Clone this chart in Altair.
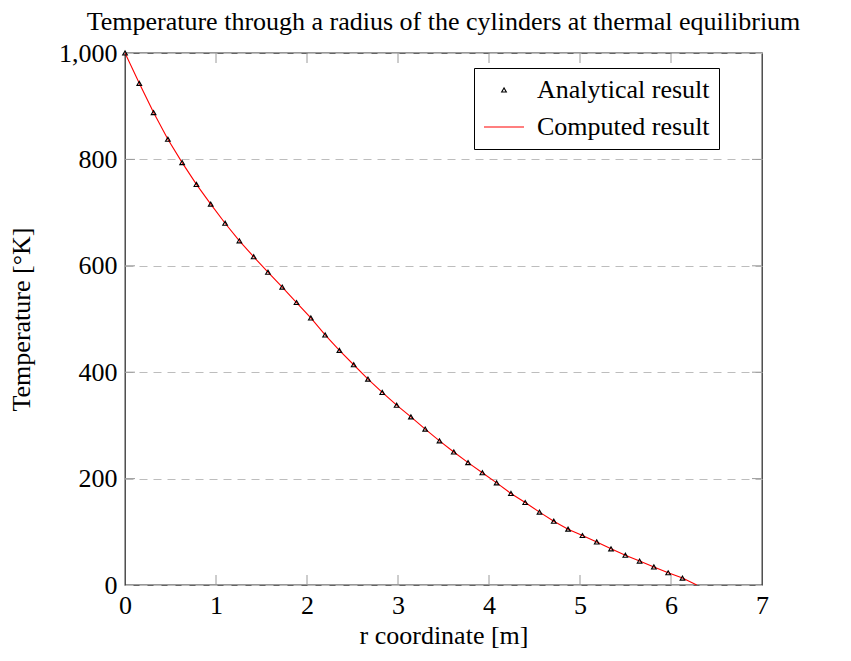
import altair as alt
import pandas as pd

# ---- data ----
r_analytical = [0.000, 0.157, 0.314, 0.471, 0.628, 0.785, 0.942, 1.100, 1.257, 1.414,
                1.571, 1.728, 1.885, 2.042, 2.199, 2.356, 2.513, 2.670, 2.827, 2.985,
                3.142, 3.299, 3.456, 3.613, 3.770, 3.927, 4.084, 4.241, 4.398, 4.555,
                4.712, 4.869, 5.027, 5.184, 5.341, 5.498, 5.655, 5.812, 5.969, 6.126]
t_analytical = [1000, 943, 888, 838, 794, 753, 716, 680, 647, 617,
                588, 560, 531, 502, 470, 441, 414, 387, 362, 338,
                316, 293, 271, 250, 230, 211, 192, 172, 155, 137,
                120, 105, 93, 81, 68, 56, 45, 34, 23, 13]
r_computed = r_analytical + [6.283]
t_computed = t_analytical + [0]

x_ticks = [0, 1, 2, 3, 4, 5, 6, 7]
y_ticks = [0, 200, 400, 600, 800, 1000]
x_inner_ticks = [1, 2, 3, 4, 5, 6]
y_inner_ticks = [200, 400, 600, 800]
series = ["Analytical result", "Computed result"]

FONT = "Liberation Serif"
FS = 26
W, H = 637, 532

ana = pd.DataFrame({"r": r_analytical, "T": t_analytical, "series": series[0]})
comp = pd.DataFrame({"r": r_computed, "T": t_computed})
xt = pd.DataFrame({"r": x_inner_ticks})
yt = pd.DataFrame({"T": y_inner_ticks})

xscale = alt.Scale(domain=[0, 7], nice=False, zero=False)
yscale = alt.Scale(domain=[0, 1000], nice=False, zero=False)

xaxis = alt.Axis(values=x_ticks, format="d", ticks=False, domain=False, grid=False,
                 labelPadding=7, labelFontSize=FS, labelFont=FONT, labelColor="black",
                 title="r coordinate [m]", titleFont=FONT, titleFontSize=FS,
                 titleFontWeight="normal", titleColor="black", titlePadding=4,
                 labelFlush=False)
yaxis = alt.Axis(values=y_ticks, format=",d", ticks=False, domain=False, grid=True,
                 gridDash=[8, 6], gridColor="#bdbdbd", gridWidth=1,
                 labelPadding=8, labelFontSize=FS, labelFont=FONT, labelColor="black",
                 title="Temperature [°K]", titleFont=FONT, titleFontSize=FS,
                 titleFontWeight="normal", titleColor="black", titlePadding=24,
                 labelFlush=False)

line = alt.Chart(comp).mark_line(color="red", strokeWidth=1.1, clip=True).encode(
    x=alt.X("r:Q", scale=xscale, axis=xaxis),
    y=alt.Y("T:Q", scale=yscale, axis=yaxis),
)

points = alt.Chart(ana).mark_point(filled=False, strokeWidth=1.1, opacity=1).encode(
    x=alt.X("r:Q", scale=xscale),
    y=alt.Y("T:Q", scale=yscale),
    color=alt.Color("series:N", title=None,
                    scale=alt.Scale(domain=series, range=["black", "red"])),
    shape=alt.Shape("series:N", title=None,
                    scale=alt.Scale(domain=series, range=["triangle-up", "stroke"])),
    size=alt.Size("series:N", title=None,
                  scale=alt.Scale(domain=series, range=[22, 1600])),
)

tick_style = dict(color="#9a9a9a", strokeWidth=1)
xb = alt.Chart(xt).mark_rule(**tick_style).encode(
    x=alt.X("r:Q", scale=xscale), y=alt.value(H), y2=alt.value(H - 10))
xtop = alt.Chart(xt).mark_rule(**tick_style).encode(
    x=alt.X("r:Q", scale=xscale), y=alt.value(0), y2=alt.value(10))
yl = alt.Chart(yt).mark_rule(**tick_style).encode(
    y=alt.Y("T:Q", scale=yscale), x=alt.value(0), x2=alt.value(10))
yr = alt.Chart(yt).mark_rule(**tick_style).encode(
    y=alt.Y("T:Q", scale=yscale), x=alt.value(W), x2=alt.value(W - 10))

chart = alt.layer(xb, xtop, yl, yr, line, points).properties(
    width=W, height=H,
    title=alt.TitleParams(
        "Temperature through a radius of the cylinders at thermal equilibrium",
        font=FONT, fontSize=FS, fontWeight="normal", color="black",
        anchor="middle", offset=5),
    autosize=alt.AutoSizeParams(type="none"),
    padding={"left": 117, "top": 45, "right": 80, "bottom": 70},
).configure_view(
    stroke="#333333", strokeWidth=1.3
).configure_legend(
    orient="none", legendX=349, legendY=15,
    strokeColor="black", strokeWidth=1, fillColor="white",
    padding=9, labelFont=FONT, labelFontSize=FS, labelColor="black",
    labelOffset=12, rowPadding=3, symbolStrokeWidth=1.1, labelLimit=400,
)

chart.save("out.html", embed_options={"renderer": "svg", "actions": False})
